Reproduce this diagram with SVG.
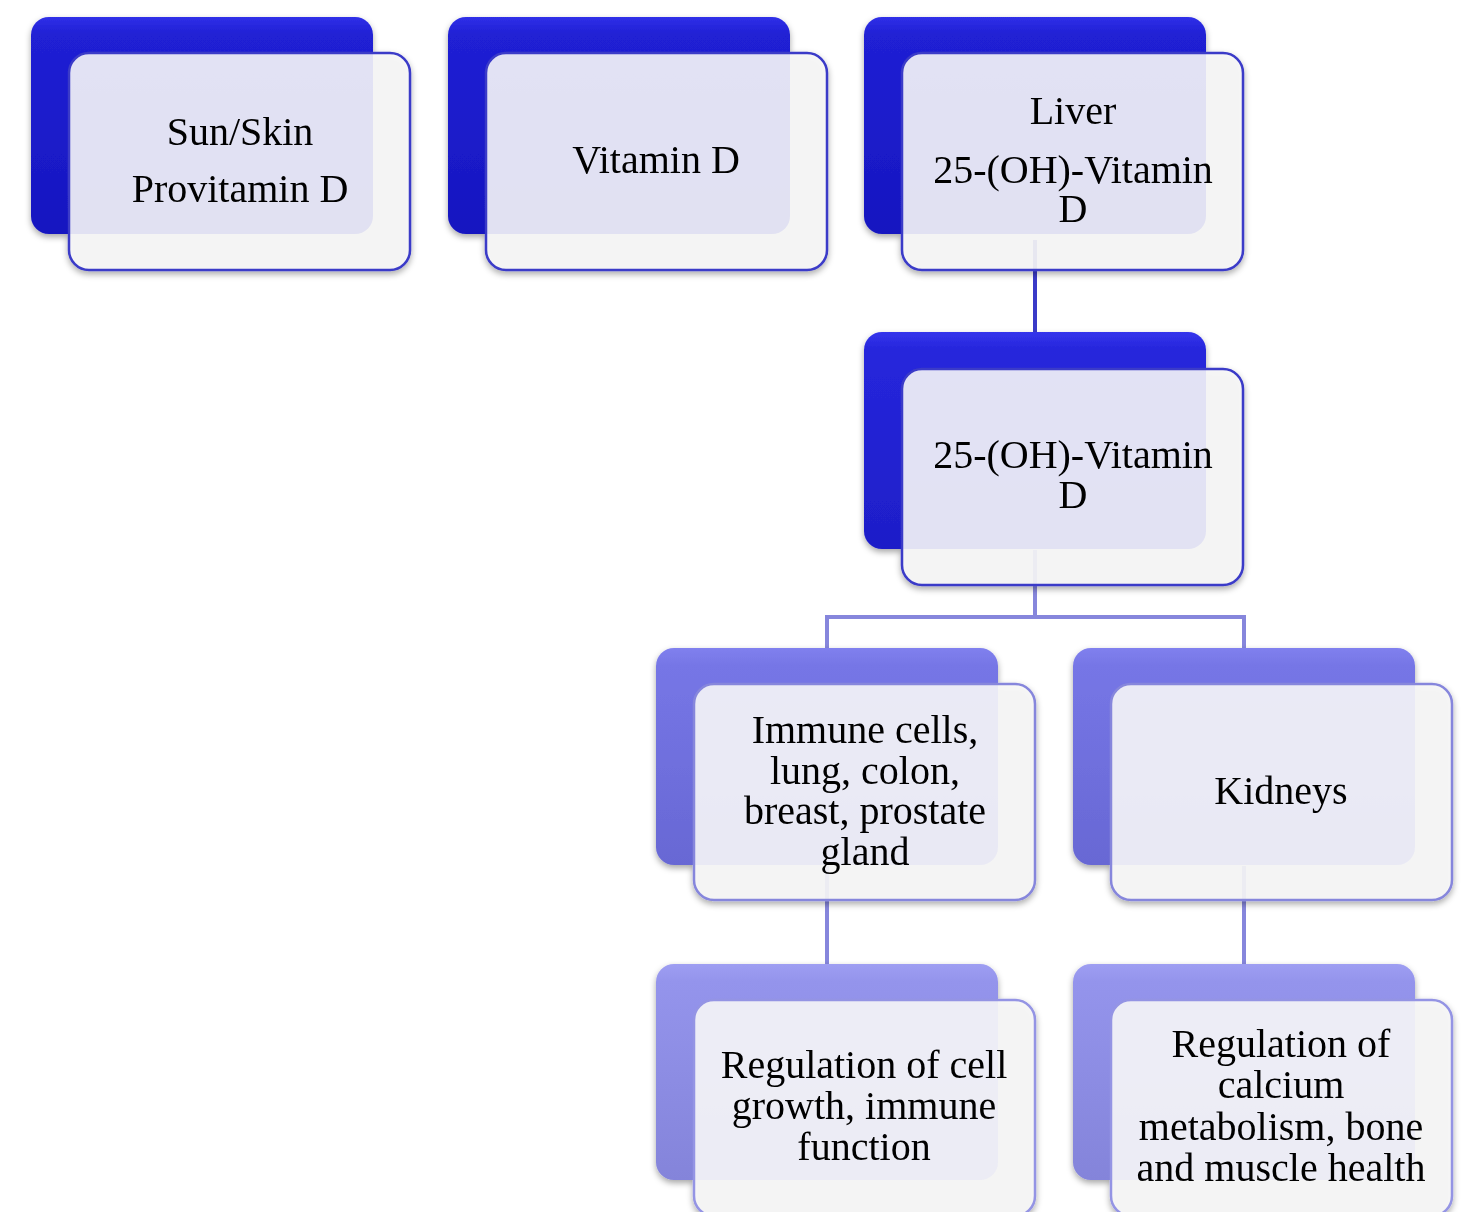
<svg xmlns="http://www.w3.org/2000/svg" width="1467" height="1212" viewBox="0 0 1467 1212">
<style>
.t{font-family:"Liberation Serif","Times New Roman",serif;font-size:40px;fill:#000;text-anchor:middle}
.f{fill:#f7f7f7;fill-opacity:0.9;stroke-width:2.5}
.c0{fill:none;stroke:#3a3ac8;stroke-width:4}
.c1{fill:none;stroke:#8686dc;stroke-width:4}
</style>
<defs>
<linearGradient id="g0" x1="0" y1="0" x2="0" y2="1"><stop offset="0" stop-color="#3030e8"/><stop offset="0.08" stop-color="#2020d4"/><stop offset="1" stop-color="#1616c0"/></linearGradient>
<linearGradient id="g1" x1="0" y1="0" x2="0" y2="1"><stop offset="0" stop-color="#3434ec"/><stop offset="0.08" stop-color="#2626dc"/><stop offset="1" stop-color="#1e1ec8"/></linearGradient>
<linearGradient id="g2" x1="0" y1="0" x2="0" y2="1"><stop offset="0" stop-color="#8080ee"/><stop offset="0.08" stop-color="#7676e6"/><stop offset="1" stop-color="#6868d4"/></linearGradient>
<linearGradient id="g3" x1="0" y1="0" x2="0" y2="1"><stop offset="0" stop-color="#9e9ef2"/><stop offset="0.08" stop-color="#9494ec"/><stop offset="1" stop-color="#8484da"/></linearGradient>
<filter id="sh" x="-10%" y="-10%" width="125%" height="130%"><feDropShadow dx="0" dy="3" stdDeviation="3" flood-color="#000" flood-opacity="0.35"/></filter>
</defs>
<g id="connectors">
<path class="c0" d="M1035 240V334"/>
<path class="c1" d="M1035 550V617H827V650M1035 617H1244V650"/>
<path class="c1" d="M827 866V966"/>
<path class="c1" d="M1244 866V966"/>
</g>
<g id="n-sun" filter="url(#sh)">
<rect x="31" y="17" width="342" height="217" rx="18" fill="url(#g0)"/>
<rect class="f" x="69" y="53" width="341" height="217" rx="20" stroke="#3a3ac8"/>
<text class="t" x="240" y="145">Sun/Skin</text>
<text class="t" x="240" y="202">Provitamin D</text>
</g>
<g id="n-vitd" filter="url(#sh)">
<rect x="448" y="17" width="342" height="217" rx="18" fill="url(#g0)"/>
<rect class="f" x="486" y="53" width="341" height="217" rx="20" stroke="#3a3ac8"/>
<text class="t" x="656" y="173">Vitamin D</text>
</g>
<g id="n-liver" filter="url(#sh)">
<rect x="864" y="17" width="342" height="217" rx="18" fill="url(#g0)"/>
<rect class="f" x="902" y="53" width="341" height="217" rx="20" stroke="#3a3ac8"/>
<text class="t" x="1073" y="124">Liver</text>
<text class="t" x="1073" y="183">25-(OH)-Vitamin</text>
<text class="t" x="1073" y="222">D</text>
</g>
<g id="n-25oh" filter="url(#sh)">
<rect x="864" y="332" width="342" height="217" rx="18" fill="url(#g1)"/>
<rect class="f" x="902" y="369" width="341" height="216" rx="20" stroke="#3a3ac8"/>
<text class="t" x="1073" y="468">25-(OH)-Vitamin</text>
<text class="t" x="1073" y="508">D</text>
</g>
<g id="n-immune" filter="url(#sh)">
<rect x="656" y="648" width="342" height="217" rx="18" fill="url(#g2)"/>
<rect class="f" x="694" y="684" width="341" height="216" rx="20" stroke="#8686dc"/>
<text class="t" x="865" y="743">Immune cells,</text>
<text class="t" x="865" y="784">lung, colon,</text>
<text class="t" x="865" y="824">breast, prostate</text>
<text class="t" x="865" y="865">gland</text>
</g>
<g id="n-kidneys" filter="url(#sh)">
<rect x="1073" y="648" width="342" height="217" rx="18" fill="url(#g2)"/>
<rect class="f" x="1111" y="684" width="341" height="216" rx="20" stroke="#8686dc"/>
<text class="t" x="1281" y="804">Kidneys</text>
</g>
<g id="n-cellgrowth" filter="url(#sh)">
<rect x="656" y="964" width="342" height="216" rx="18" fill="url(#g3)"/>
<rect class="f" x="694" y="1000" width="341" height="216" rx="20" stroke="#9494e4"/>
<text class="t" x="864" y="1078">Regulation of cell</text>
<text class="t" x="864" y="1119">growth, immune</text>
<text class="t" x="864" y="1160">function</text>
</g>
<g id="n-calcium" filter="url(#sh)">
<rect x="1073" y="964" width="342" height="216" rx="18" fill="url(#g3)"/>
<rect class="f" x="1111" y="1000" width="341" height="216" rx="20" stroke="#9494e4"/>
<text class="t" x="1281" y="1057">Regulation of</text>
<text class="t" x="1281" y="1098">calcium</text>
<text class="t" x="1281" y="1140">metabolism, bone</text>
<text class="t" x="1281" y="1181">and muscle health</text>
</g>
</svg>
